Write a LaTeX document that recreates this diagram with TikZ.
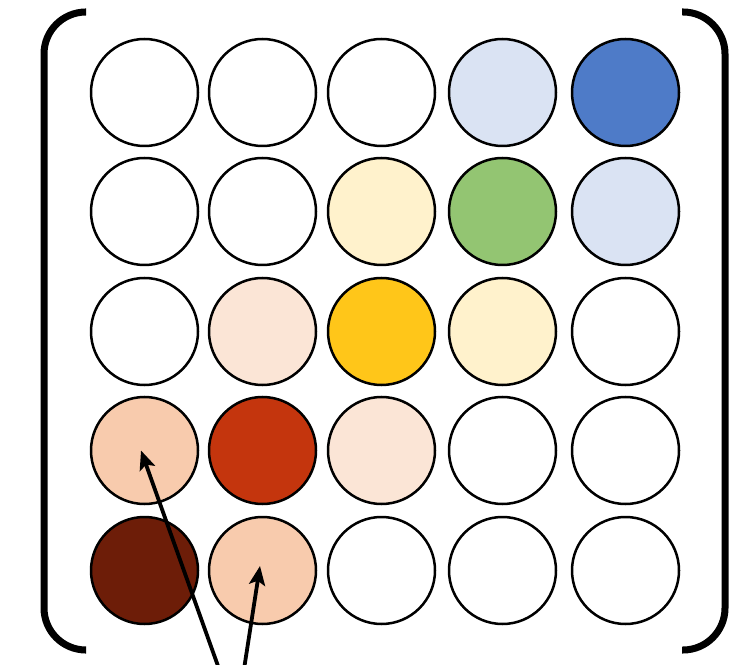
\documentclass[tikz,border=0pt]{standalone}
\usetikzlibrary{arrows.meta}
\definecolor{lblue}{HTML}{DAE3F3}
\definecolor{dblue}{HTML}{4E7BC8}
\definecolor{lyellow}{HTML}{FFF2CC}
\definecolor{mgreen}{HTML}{93C572}
\definecolor{gold}{HTML}{FFC619}
\definecolor{lpeach}{HTML}{FBE5D6}
\definecolor{peach}{HTML}{F8CBAD}
\definecolor{rust}{HTML}{C4350D}
\definecolor{dbrown}{HTML}{6D1D08}
\tikzset{
  dot/.style={circle, draw=black, line width=2.5pt, minimum size=107pt, inner sep=0pt},
  brack/.style={line width=7pt, rounded corners=42pt},
  ptr/.style={line width=3.8pt, -{Stealth[length=19pt,width=16pt,inset=4pt]}}
}
\begin{document}
\begin{tikzpicture}[x=1pt,y=1pt]
\useasboundingbox (0,0) rectangle (743,664);
\node[dot, fill=white]   (c11) at (144.5,571.5) {};
\node[dot, fill=white]   (c12) at (262.5,571.5) {};
\node[dot, fill=white]   (c13) at (381.5,571.5) {};
\node[dot, fill=lblue]   (c14) at (502.5,571.5) {};
\node[dot, fill=dblue]   (c15) at (625.5,571.5) {};
\node[dot, fill=white]   (c21) at (144.5,452.5) {};
\node[dot, fill=white]   (c22) at (262.5,452.5) {};
\node[dot, fill=lyellow] (c23) at (381.5,452.5) {};
\node[dot, fill=mgreen]  (c24) at (502.5,452.5) {};
\node[dot, fill=lblue]   (c25) at (625.5,452.5) {};
\node[dot, fill=white]   (c31) at (144.5,332.5) {};
\node[dot, fill=lpeach]  (c32) at (262.5,332.5) {};
\node[dot, fill=gold]    (c33) at (381.5,332.5) {};
\node[dot, fill=lyellow] (c34) at (502.5,332.5) {};
\node[dot, fill=white]   (c35) at (625.5,332.5) {};
\node[dot, fill=peach]   (c41) at (144.5,213.5) {};
\node[dot, fill=rust]    (c42) at (262.5,213.5) {};
\node[dot, fill=lpeach]  (c43) at (381.5,213.5) {};
\node[dot, fill=white]   (c44) at (502.5,213.5) {};
\node[dot, fill=white]   (c45) at (625.5,213.5) {};
\node[dot, fill=dbrown]  (c51) at (144.5,93.5) {};
\node[dot, fill=peach]   (c52) at (262.5,93.5) {};
\node[dot, fill=white]   (c53) at (381.5,93.5) {};
\node[dot, fill=white]   (c54) at (502.5,93.5) {};
\node[dot, fill=white]   (c55) at (625.5,93.5) {};
% brackets
\draw[brack] (85,652) -- (44,652) -- (44,14) -- (85,14);
\draw[brack] (682,652) -- (725,652) -- (725,14) -- (682,14);
% arrows
\coordinate (a1) at (218,-2);
\coordinate (a2) at (244.5,-2);
\coordinate (t1) at ([shift={(-3.5,0)}]c41.center);
\coordinate (t2) at ([shift={(-2.5,4.5)}]c52.center);
\draw[ptr] (a1) -- (t1);
\draw[ptr] (a2) -- (t2);
\end{tikzpicture}
\end{document}
